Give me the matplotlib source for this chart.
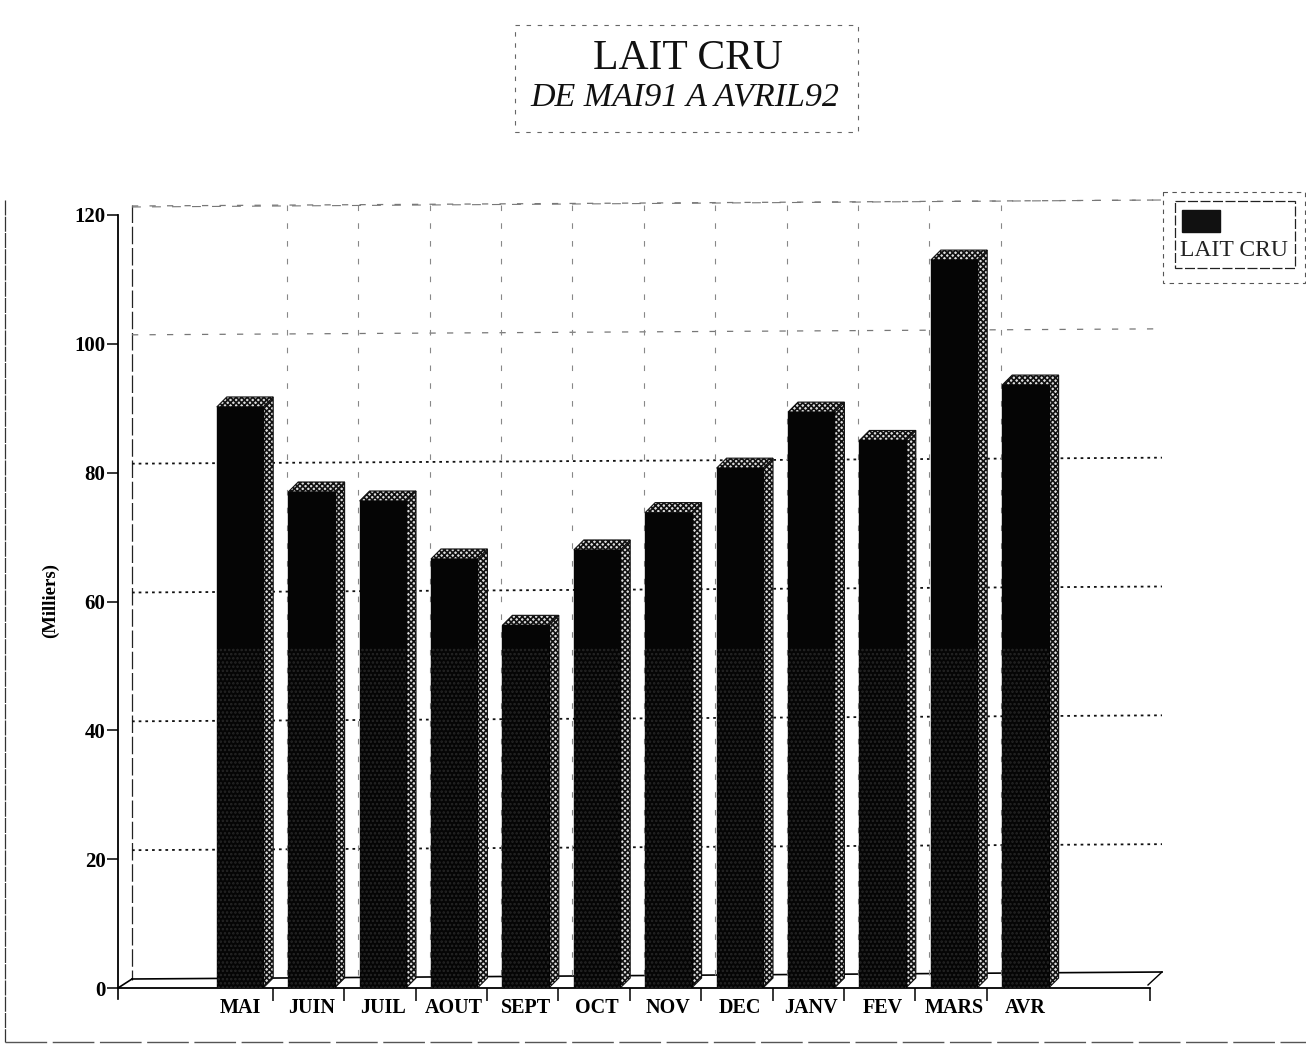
import numpy as np
import matplotlib.pyplot as plt
from matplotlib.patches import Polygon, Rectangle

plt.rcParams['font.family'] = ['Liberation Serif', 'DejaVu Serif']
plt.rcParams['hatch.linewidth'] = 1.2

months = ["MAI", "JUIN", "JUIL", "AOUT", "SEPT", "OCT", "NOV", "DEC", "JANV", "FEV", "MARS", "AVR"]
lait_cru = [90.2, 77, 75.6, 66.6, 56.3, 68, 73.8, 80.7, 89.4, 85, 113, 93.6]
y_ticks = [0, 20, 40, 60, 80, 100, 120]

W, H = 1306, 1047
fig = plt.figure(figsize=(W / 100, H / 100), dpi=100, facecolor='white')

# calque en pixels pour les cadres et le fond 3D
bg = fig.add_axes([0, 0, 1, 1])
bg.set_xlim(0, W)
bg.set_ylim(H, 0)
bg.axis('off')

# cadre exterieur
bg.plot([5, 5], [200, 1042], color='#333333', lw=0.9, ls=(0, (12, 1)))
bg.plot([5, 1306], [1042, 1042], color='#555555', lw=1.0, ls=(0, (30, 4)))

# titre
bg.add_patch(Rectangle((515, 25), 343, 107, fill=False, ec='#666666', lw=0.8, ls=(0, (4, 6))))
bg.text(688, 59, "LAIT CRU", fontsize=30, ha='center', va='center', color='#111111')
bg.text(685, 97, "DE MAI91 A AVRIL92", fontsize=24.5, style='italic', ha='center', va='center', color='#111111')

# legende
bg.add_patch(Rectangle((1163, 192), 142, 91, fill=False, ec='#555555', lw=0.8, ls=(0, (4, 4))))
bg.add_patch(Rectangle((1175, 201), 120, 67, fill=False, ec='#222222', lw=0.9, ls=(0, (8, 2))))
bg.add_patch(Rectangle((1182, 210), 38, 22, fc='#111111', ec='#111111'))
bg.text(1234, 251, "LAIT CRU", fontsize=17, ha='center', va='center', color='#222222')

# parois du fond
bg.plot([132, 132], [205, 980], color='#222222', lw=0.9, ls=(0, (14, 3)))
bg.plot([132, 1162], [207, 200], color='#777777', lw=0.8, ls=(0, (8, 10)))
bg.plot([118, 132], [988, 979], color='black', lw=1.2)
bg.plot([132, 1162], [979, 972], color='black', lw=1.2)
bg.plot([1148, 1162], [985, 972], color='black', lw=1.0)
bg.plot([118, 118], [988, 999], color='black', lw=1.2)

# axe principal : memes echelles que le graphique d'origine
px = 71.4
ax = fig.add_axes([118 / W, 1 - 988 / H, (1150 - 118) / W, (988 - 215) / H])
ax.patch.set_alpha(0)
x = np.arange(len(months))
ax.set_xlim((118 - 240) / px, (1150 - 240) / px)
ax.set_ylim(0, 120)

py = (988 - 215) / 120
dep_x, dep_y = 10 / px, 10 / py

# grille au fond (decalee de la profondeur)
for t in y_ticks[1:]:
    ys = 988 - t * py - 9
    faint = t >= 100
    bg.plot([132, 1162], [ys, ys - 6], color='#777777' if faint else '#111111', lw=0.9 if faint else 1.3,
            ls=(0, (5, 9)) if faint else (0, (1.5, 2.2)))
for b in x[:-1] + 0.5:
    xs = 240 + b * px + 11
    bg.plot([xs, xs], [205, 975], color='#888888', lw=0.8, ls=(0, (5, 11)))

bar_w = 0.65
for xi, v in zip(x, lait_cru):
    left, right = xi - bar_w / 2, xi + bar_w / 2
    ax.add_patch(Polygon([(right, 0), (right + dep_x, dep_y), (right + dep_x, v + dep_y), (right, v)],
                         fc='#dddddd', ec='#111111', hatch='xxxxxx', lw=0.8, zorder=3))
    ax.add_patch(Polygon([(left, v), (left + dep_x, v + dep_y), (right + dep_x, v + dep_y), (right, v)],
                         fc='#dddddd', ec='#111111', hatch='xxxxxx', lw=0.8, zorder=3))
ax.bar(x, lait_cru, width=bar_w, color='#050505', edgecolor='#050505', zorder=4)
ax.bar(x, np.minimum(lait_cru, 53), width=bar_w, color='none', edgecolor='#262626', hatch='....', lw=0, zorder=5)

ax.spines['top'].set_visible(False)
ax.spines['right'].set_visible(False)
ax.spines['left'].set_linewidth(1.3)
ax.spines['bottom'].set_linewidth(1.3)

ax.set_yticks(y_ticks)
ax.set_yticklabels([str(t) for t in y_ticks], fontsize=15, fontweight='bold')
ax.tick_params(axis='y', length=8, width=1.1, pad=1)
ax.set_xticks(x)
ax.set_xticklabels(months, fontsize=14.5, fontweight='bold')
ax.set_xticks(np.append(x[:-1] + 0.46, [(1150 - 240) / px]), minor=True)
ax.tick_params(axis='x', which='major', length=0, pad=12)
ax.tick_params(axis='x', which='minor', length=9, width=1.1)
for lab in ax.get_xticklabels():
    lab.set_y(0.008)

bg.text(50, 600, "(Milliers)", rotation=90, fontsize=13.5, fontweight='bold', ha='center', va='center')

fig.savefig('out.png', dpi=100)
